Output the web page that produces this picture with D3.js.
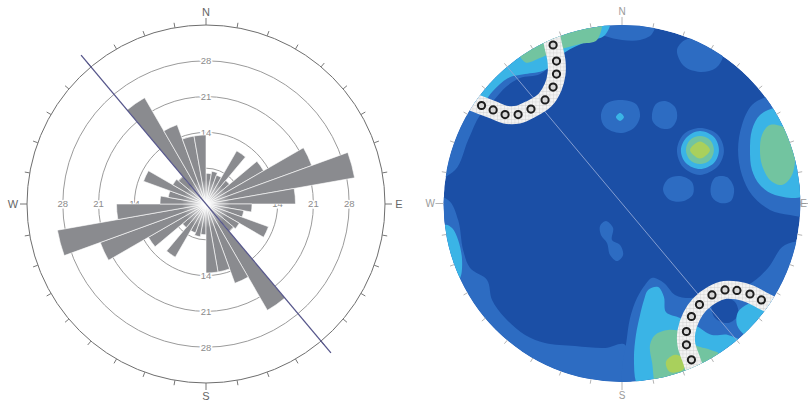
<!DOCTYPE html>
<html>
<head>
<meta charset="utf-8">
<script src="https://cdn.jsdelivr.net/npm/d3@7"></script>
<style>
  html, body { margin: 0; padding: 0; background: #fff; }
  svg { display: block; font-family: "Liberation Sans", Arial, sans-serif; }
</style>
</head>
<body>
<div id="svgOutput"></div>
<script>
// Rose diagram: bidirectional strike counts, 10 degree bins (0-180, mirrored)

const binWidth = 10;
const roseBins = [0, 10, 20, 30, 40, 50, 60, 70, 80, 90, 100, 110, 120, 130, 140, 150, 160, 170];
const roseCounts = [6, 6.5, 6, 12, 6, 13, 22, 29.5, 17.5, 9, 7.5, 13, 7.5, 7, 24, 16.5, 13.5, 13.5];
const roseMax = 35;
const ringValues = [7, 14, 21, 28];
const ringLabelValues = [14, 21, 28];
const cardinals = ["N", "E", "S", "W"];
const meanTrend = 320;

// Stereonet: contour polygons in net units (-100..100, x east, y north)

const mediumContours = [
  [[-16.8, 105.6], [-16.8, 97.2], [-9.5, 93.8], [0, 91.6], [10.1, 91.6], [16.8, 94.9], [18.5, 105.6]],
  [[30.8, 86.0], [35.3, 91.6], [43.7, 92.7], [52.6, 90.4], [56.6, 83.2], [52.6, 75.9], [43.7, 73.7], [34.7, 77.0]],
  [[-11.8, 49], [-9, 55.7], [-1.1, 58], [7.8, 55.7], [10.1, 49], [6.7, 42.3], [-1.1, 39.5], [-9.5, 42.8]],
  [[16.8, 49.6], [19, 55.7], [24.1, 57.4], [29.7, 54], [30.8, 47.6], [27.4, 42.3], [21.3, 42.3], [17.4, 45.6]],
  [[30.8, 30], [34.7, 38.9], [43.7, 42.3], [53.2, 38.9], [57.1, 30], [53.8, 21], [43.7, 16], [34.2, 20.4]],
  [[23, 7.6], [25.8, 13.7], [32.5, 15.4], [39.2, 12], [39.8, 5.3], [34.7, 1.4], [26.9, 2]],
  [[49.8, 9.8], [52.6, 14.8], [58.8, 14.8], [62.7, 8.7], [61, 1.4], [54.9, 0.3], [50.4, 3.6]],
  [[94.1, 66.4], [82.9, 60.8], [72.8, 55.2], [67.2, 44], [65, 30], [67.2, 16], [72.8, 4.8], [82.9, -3.6], [94.1, -6.4], [108, -6.4], [108, 30], [105.3, 66.4]],
  [[-107.5, 13.2], [-93.5, 18.8], [-86.2, 35.6], [-79.5, 49.6], [-71.7, 58], [-64.4, 65.8], [-57.1, 70.3], [-45.9, 72.5], [-38.6, 79.2], [-31.9, 88.8], [-20.7, 94.9], [-13.4, 97.2], [-15.1, 108.4], [-57.1, 105.6], [-90.7, 86], [-110.3, 46.8]],
  [[-97.4, 2], [-91.8, -9.2], [-89, -26], [-85.1, -36.1], [-75.6, -42.8], [-72.8, -54], [-65.5, -64.1], [-54.3, -73.6], [-43.1, -78.1], [-26.3, -79.8], [-9.5, -80.9], [1.7, -79.2], [1.7, -110], [-68.3, -104.4], [-113, -54], [-113, 4.8]],
  [[-12.3, -12.6], [-9, -9.8], [-5, -13.7], [-5.6, -20.4], [-1.1, -23.2], [0.6, -28.8], [-2.8, -32.2], [-6.7, -28.8], [-8.4, -22.1], [-11.8, -17.6]],
  [[16.8, -41.7], [23.5, -44.5], [29.7, -51.2], [38.1, -52.9], [54.9, -49.6], [70.6, -45.6], [81.8, -36.1], [91.3, -23.2], [108.1, -23.2], [108.1, -70.8], [54.9, -110], [1.7, -110], [0, -93.2], [2.2, -79.2], [4.5, -64.1], [8.4, -52.9], [12.9, -45.6]]
];

const lowContours = [
  [[50.4, -56.8], [56, -52.9], [63.3, -55.2], [65, -62.4], [59.4, -66.9], [52.1, -64.1]]
];

const cyanContours = [
  [[-85.1, 58], [-80.6, 52.4], [-72.8, 62.4], [-63.8, 70.3], [-54.3, 72.5], [-43.1, 74.8], [-31.9, 84.8], [-20.7, 90.4], [-9.5, 94.4], [-6.7, 107.2], [-57.1, 107.2], [-93.5, 69.2]],
  [[-3.4, 48.4], [-1.1, 50.7], [1.1, 48.4], [-1.1, 46.2]],
  [[33, 30], [36.4, 37.2], [43.7, 40.6], [51.5, 37.2], [54.3, 30], [51.5, 22.7], [43.7, 19.3], [35.8, 22.7]],
  [[85.7, 53.5], [77.3, 49.6], [72.8, 41.2], [71.7, 30], [72.8, 18.8], [77.3, 10.4], [85.7, 4.8], [102.5, 4.8], [105.3, 30], [99.7, 52.4]],
  [[-99.1, -12], [-95.2, -13.7], [-91.8, -20.4], [-89.6, -31.6], [-90.7, -41.7], [-93.5, -44], [-101.9, -31.6]],
  [[14.6, -48.4], [20.2, -46.8], [23.5, -52.4], [24.6, -60.8], [32.5, -64.1], [40.9, -68], [50.4, -73.6], [59.4, -73.6], [68.9, -79.2], [68.9, -93.2], [15.7, -110], [8.4, -101.6], [6.7, -87.6], [7.8, -73.6], [10.1, -62.4], [12.3, -54]],
  [[65, -60.8], [70.6, -56.3], [78.4, -54], [94.1, -54], [77.3, -76.4], [68.9, -73.6], [64.4, -68]]
];

const greenContours = [
  [[-54.3, 79.2], [-45.9, 81.5], [-39.2, 84.8], [-31.9, 87.1], [-23.5, 89.4], [-14, 91.6], [-12.3, 105.6], [-59.9, 94.4]],
  [[35.8, 30], [38.1, 35.6], [43.7, 37.8], [49.3, 35.6], [51.5, 30], [49.3, 24.4], [43.7, 22.1], [38.1, 24.4]],
  [[82.9, 44], [78.4, 38.4], [77.3, 30], [78.4, 21.6], [82.9, 13.2], [89.6, 10.4], [95.2, 16], [96.9, 30], [93, 41.2]],
  [[18.5, -73.6], [25.8, -70.8], [35.3, -72.5], [40.9, -79.2], [49.3, -82], [54.9, -84.8], [54.9, -101.6], [21.3, -105.6], [16.8, -88.8], [15.7, -79.2]]
];

const peakContours = [
  [[38.1, 30], [43.7, 34.7], [49.3, 30], [43.7, 25.2]],
  [[24.6, -88.8], [29.7, -84.8], [35.3, -87.6], [34.2, -93.2], [26.9, -94.4]]
];

// Cone markers (net units)

const nwConeMarkers = [[-38.6, 88.8], [-36.7, 79.8], [-36.7, 72.5], [-38.6, 65.2], [-43.1, 58], [-51, 52.9], [-58.2, 49.8], [-65.5, 49.8], [-72.2, 52.4], [-78.7, 54.9]];
const seConeMarkers = [[78.1, -54], [71.7, -50.7], [64.4, -48.7], [57.7, -48.4], [50.4, -51.2], [43.4, -56.6], [38.9, -63.3], [36.1, -71.7], [36.1, -79.2], [38.9, -87.6]];

(function () {
  document.addEventListener('DOMContentLoaded', function () {

    // Config

    const width = 808;
    const height = 402;

    const rose = { "cx": 206, "cy": 204, "radius": 179 };
    const net = { "cx": 622, "cy": 203.5, "radius": 178.5 };

    const toRad = d => d * Math.PI / 180;

    const svg = d3.select("#svgOutput")
      .append("svg")
      .attr("width", width)
      .attr("height", height)
      .attr("viewBox", [0, 0, width, height]);

    const defs = svg.append("defs");

    const fade = defs.append("radialGradient").attr("id", "centreFade");
    fade.append("stop").attr("offset", "0%").attr("stop-color", "#fff").attr("stop-opacity", 0.95);
    fade.append("stop").attr("offset", "55%").attr("stop-color", "#fff").attr("stop-opacity", 0.45);
    fade.append("stop").attr("offset", "100%").attr("stop-color", "#fff").attr("stop-opacity", 0);

    const grid = defs.append("pattern")
      .attr("id", "coneGrid")
      .attr("width", 3.5)
      .attr("height", 3.5)
      .attr("patternUnits", "userSpaceOnUse");
    grid.append("rect").attr("width", 3.5).attr("height", 3.5).attr("fill", "#f3f3f3");
    grid.append("path").attr("d", "M3.5 0 L0 0 0 3.5").attr("stroke", "#c2c2c2").attr("stroke-width", 0.6).attr("fill", "none");

    defs.append("clipPath").attr("id", "netClip")
      .append("circle")
      .attr("cx", net.cx)
      .attr("cy", net.cy)
      .attr("r", net.radius);

    //
    // Rose diagram
    //

    const rScale = d3.scaleLinear().domain([0, roseMax]).range([0, rose.radius]);
    const polar = (az, r) => [r * Math.sin(toRad(az)), -r * Math.cos(toRad(az))];

    const gRose = svg.append("g")
      .attr("transform", `translate(${rose.cx},${rose.cy})`);

    gRose.selectAll("circle.ring")
      .data(ringValues)
      .join("circle")
      .attr("class", "ring")
      .attr("r", d => rScale(d))
      .attr("fill", "none")
      .attr("stroke", "#9b9b9b")
      .attr("stroke-width", 1);

    gRose.append("circle")
      .attr("r", rScale(roseMax))
      .attr("fill", "none")
      .attr("stroke", "#6e6e6e")
      .attr("stroke-width", 1);

    // outer ticks every 10 degrees

    gRose.selectAll("line.tick")
      .data(d3.range(0, 360, 10))
      .join("line")
      .attr("class", "tick")
      .attr("x1", d => polar(d, rose.radius)[0])
      .attr("y1", d => polar(d, rose.radius)[1])
      .attr("x2", d => polar(d, rose.radius + (d % 90 === 0 ? 7 : 5))[0])
      .attr("y2", d => polar(d, rose.radius + (d % 90 === 0 ? 7 : 5))[1])
      .attr("stroke", "#777")
      .attr("stroke-width", 1);

    // ring labels on the four axes

    const ringLabels = ringLabelValues.flatMap(v => [0, 90, 180, 270].map(az => ({ v, az })));

    gRose.selectAll("text.ringLabel")
      .data(ringLabels)
      .join("text")
      .attr("class", "ringLabel")
      .attr("x", d => polar(d.az, rScale(d.v))[0])
      .attr("y", d => polar(d.az, rScale(d.v))[1])
      .attr("dy", "0.35em")
      .attr("text-anchor", "middle")
      .attr("font-size", 9.5)
      .attr("fill", "#8c8c8c")
      .attr("stroke", "#fff")
      .attr("stroke-width", 3)
      .attr("paint-order", "stroke")
      .text(d => d.v);

    // petals

    const petals = roseBins.flatMap((b, i) => [
      { az: b, n: roseCounts[i] },
      { az: b + 180, n: roseCounts[i] }
    ]);

    const petalArc = d3.arc()
      .innerRadius(0)
      .outerRadius(d => rScale(d.n))
      .startAngle(d => toRad(d.az))
      .endAngle(d => toRad(d.az + binWidth));

    gRose.selectAll("path.petal")
      .data(petals)
      .join("path")
      .attr("class", "petal")
      .attr("d", petalArc)
      .attr("fill", "#8a8b8f")
      .attr("stroke", "#fff")
      .attr("stroke-width", 0.6);

    gRose.append("circle")
      .attr("r", 24)
      .attr("fill", "url(#centreFade)");

    // mean strike line

    const lineEnd = rScale(38);
    gRose.append("line")
      .attr("x1", polar(meanTrend, lineEnd)[0])
      .attr("y1", polar(meanTrend, lineEnd)[1])
      .attr("x2", polar(meanTrend + 180, lineEnd)[0])
      .attr("y2", polar(meanTrend + 180, lineEnd)[1])
      .attr("stroke", "#55558a")
      .attr("stroke-width", 1.3);

    gRose.selectAll("text.cardinal")
      .data(cardinals)
      .join("text")
      .attr("class", "cardinal")
      .attr("x", (d, i) => polar(i * 90, rose.radius + 14)[0])
      .attr("y", (d, i) => polar(i * 90, rose.radius + 13)[1])
      .attr("dy", "0.35em")
      .attr("text-anchor", "middle")
      .attr("font-size", 11)
      .attr("fill", "#666")
      .text(d => d);

    //
    // Stereonet
    //

    const xNet = d3.scaleLinear().domain([-100, 100]).range([net.cx - net.radius, net.cx + net.radius]);
    const yNet = d3.scaleLinear().domain([-100, 100]).range([net.cy + net.radius, net.cy - net.radius]);
    const netPoint = (az, r) => [xNet(r * Math.sin(toRad(az))), yNet(r * Math.cos(toRad(az)))];

    const gNet = svg.append("g").attr("clip-path", "url(#netClip)");

    gNet.append("circle")
      .attr("cx", net.cx)
      .attr("cy", net.cy)
      .attr("r", net.radius)
      .attr("fill", "#1b4fa6");

    const contourLine = d3.line()
      .x(d => xNet(d[0]))
      .y(d => yNet(d[1]))
      .curve(d3.curveCatmullRomClosed.alpha(0.5));

    const levels = [
      { data: mediumContours, color: "#2d6cc2" },
      { data: lowContours, color: "#1b4fa6" },
      { data: cyanContours, color: "#3ab4e6" },
      { data: greenContours, color: "#72c4a0" },
      { data: peakContours, color: "#a9d05c" }
    ];

    levels.forEach((level, i) => {
      gNet.append("g")
        .attr("class", "level" + i)
        .selectAll("path")
        .data(level.data)
        .join("path")
        .attr("d", contourLine)
        .attr("fill", level.color);
    });

    // mean plane trace

    gNet.append("line")
      .attr("x1", netPoint(meanTrend, 101)[0])
      .attr("y1", netPoint(meanTrend, 101)[1])
      .attr("x2", netPoint(meanTrend + 180, 101)[0])
      .attr("y2", netPoint(meanTrend + 180, 101)[1])
      .attr("stroke", "#8ea6d6")
      .attr("stroke-width", 0.9);

    // cones: white gridded band and ring markers

    const extend = (a, b) => [b[0] + (b[0] - a[0]) * 1.6, b[1] + (b[1] - a[1]) * 1.6];
    const bandLine = d3.line()
      .x(d => xNet(d[0]))
      .y(d => yNet(d[1]))
      .curve(d3.curveCatmullRom);

    [nwConeMarkers, seConeMarkers].forEach(markers => {
      const n = markers.length;
      const path = [extend(markers[1], markers[0]), ...markers, extend(markers[n - 2], markers[n - 1])];

      gNet.append("path")
        .attr("d", bandLine(path))
        .attr("fill", "none")
        .attr("stroke", "url(#coneGrid)")
        .attr("stroke-width", 18);

      gNet.selectAll(null)
        .data(markers)
        .join("circle")
        .attr("cx", d => xNet(d[0]))
        .attr("cy", d => yNet(d[1]))
        .attr("r", 3.6)
        .attr("fill", "#d8d8d8")
        .attr("stroke", "#1e1e1e")
        .attr("stroke-width", 2);
    });

    // rim ticks and labels

    svg.append("g")
      .selectAll("line")
      .data(d3.range(0, 360, 10))
      .join("line")
      .attr("x1", d => netPoint(d, 100)[0])
      .attr("y1", d => netPoint(d, 100)[1])
      .attr("x2", d => netPoint(d, d % 90 === 0 ? 104.5 : 102.5)[0])
      .attr("y2", d => netPoint(d, d % 90 === 0 ? 104.5 : 102.5)[1])
      .attr("stroke", "#b4b4b4")
      .attr("stroke-width", 1);

    // E sits hard against the right edge, so anchor it to the end

    svg.selectAll("text.netCardinal")
      .data(cardinals)
      .join("text")
      .attr("class", "netCardinal")
      .attr("x", (d, i) => d === "E" ? width - 1 : netPoint(i * 90, 107.5)[0])
      .attr("y", (d, i) => netPoint(i * 90, 107.5)[1])
      .attr("dy", "0.35em")
      .attr("text-anchor", d => d === "E" ? "end" : "middle")
      .attr("font-size", 10)
      .attr("fill", "#9a9a9a")
      .text(d => d);

  });
})();
</script>
</body>
</html>
